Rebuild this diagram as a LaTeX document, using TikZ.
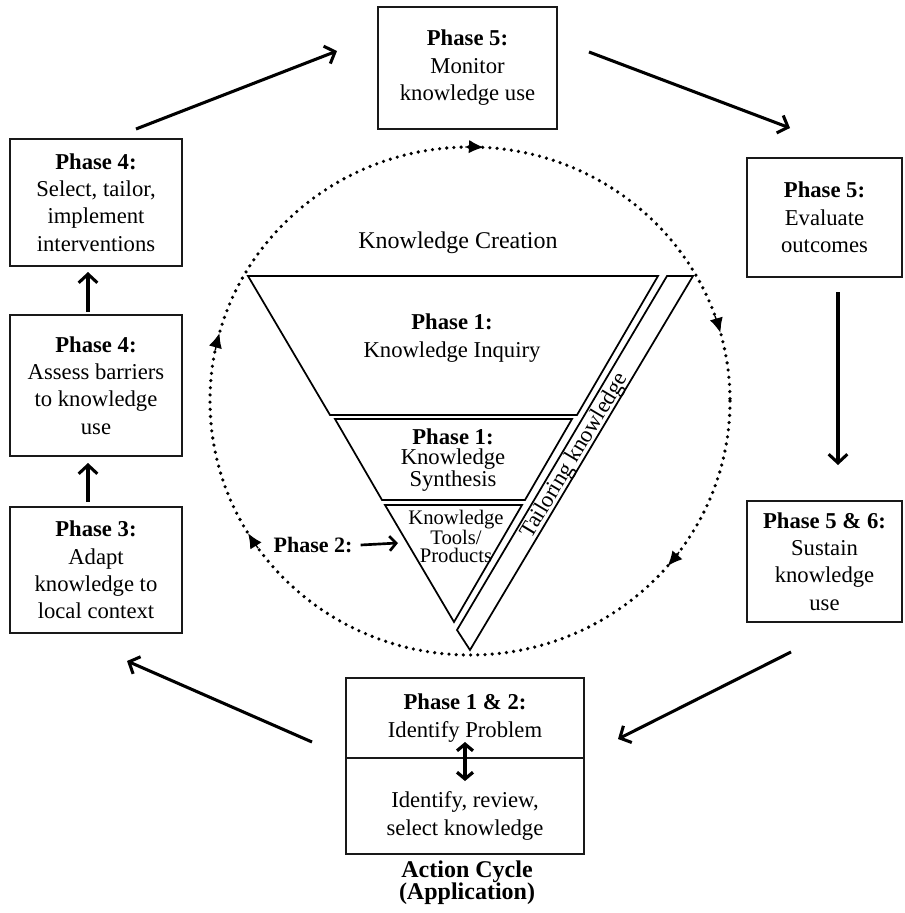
\documentclass[tikz,border=0pt]{standalone}
\usepackage{fontspec}
\setmainfont{Liberation Serif}
\usetikzlibrary{arrows.meta}
\begin{document}
\begin{tikzpicture}[x=0.75pt,y=-0.75pt,
  box/.style={draw=black!90, line width=1.5pt, align=center, inner sep=0pt, font=\fontsize{17}{20.6}\selectfont},
  txt/.style={align=center, inner sep=0pt, font=\fontsize{17}{20.6}\selectfont},
  conn/.style={line width=2.3pt, -{Straight Barb[length=6.5pt,width=14pt,line width=2.3pt]}},
  tri/.style={draw, line width=1.3pt, line join=miter},
  dots/.style={line width=2.7pt, line cap=round, dash pattern=on 0pt off 5.4pt},
  cyctip/.style={line width=1pt, -{Latex[length=11pt,width=10pt]}}]
\fill[white] (0,0) rectangle (904,913);
\useasboundingbox (0,0) rectangle (904,913);

% boxes
\node[box, minimum width=134.25pt, minimum height=91.5pt] (mon) at (467.5,68) {\textbf{Phase 5:}\\Monitor\\knowledge use};
\node[box, minimum width=129pt, minimum height=95.25pt] (sel) at (96,202.5) {\textbf{Phase 4:}\\Select, tailor,\\implement\\interventions};
\node[box, minimum width=129pt, minimum height=105.75pt] (ass) at (96,385.5) {\textbf{Phase 4:}\\Assess barriers\\to knowledge\\use};
\node[box, minimum width=129pt, minimum height=94.5pt] (ada) at (96,570) {\textbf{Phase 3:}\\Adapt\\knowledge to\\local context};
\node[box, minimum width=116.25pt, minimum height=89.25pt] (eva) at (824.5,217.5) {\textbf{Phase 5:}\\Evaluate\\outcomes};
\node[box, minimum width=116.25pt, minimum height=90.75pt] (sus) at (824.5,561.5) {\textbf{Phase 5 \& 6:}\\Sustain\\knowledge\\use};
\node[box, minimum width=178.5pt, minimum height=60pt] (idp) at (465,718) {\textbf{Phase 1 \& 2:}\\Identify Problem};
\node[box, minimum width=178.5pt, minimum height=72pt] (isk) at (465,806) {};
\node[txt] (iskt) at (465,816) {Identify, review,\\select knowledge};
\node[txt, font=\bfseries\fontsize{18}{16.5}\selectfont] (act) at (467,883) {Action Cycle\\(Application)};

% connectors between boxes
\coordinate (a1s) at (136,129); \coordinate (a1e) at (337,51);
\coordinate (a2s) at (589,52);  \coordinate (a2e) at (790,128);
\coordinate (a3s) at (838,292); \coordinate (a3e) at (838,465);
\coordinate (a4s) at (791,652); \coordinate (a4e) at (618,739);
\coordinate (a5s) at (312,742); \coordinate (a5e) at (127,661);
\coordinate (a6s) at (88,312);  \coordinate (a6e) at (88,272);
\coordinate (a7s) at (88,502);  \coordinate (a7e) at (88,463);
\draw[conn] (a1s) -- (a1e);
\draw[conn] (a2s) -- (a2e);
\draw[conn] (a3s) -- (a3e);
\draw[conn] (a4s) -- (a4e);
\draw[conn] (a5s) -- (a5e);
\draw[conn] (a6s) -- (a6e);
\draw[conn] (a7s) -- (a7e);

% double arrow inside bottom box
\coordinate (d1) at (465,742); \coordinate (d2) at (465,781);
\draw[line width=2.4pt, {Straight Barb[length=5pt,width=12pt,line width=2.4pt]}-{Straight Barb[length=5pt,width=12pt,line width=2.4pt]}] (d1) -- (d2);

% dotted cycle
\coordinate (cc) at (470,401);
\draw[dots] (cc) ++(0:260 and 254) arc[start angle=0, end angle=360, x radius=260, y radius=254];
\foreach \t in {273,344.4,400.5,508.6,555.5}
  \draw[cyctip] (cc) ++(\t-4:260 and 254) arc[start angle=\t-4, end angle=\t, x radius=260, y radius=254];

% inverted triangle
\draw[tri, fill=white] (248,276) -- (658,276) -- (577,415) -- (330,415) -- cycle;
\draw[tri, fill=white] (335,419) -- (572,419) -- (525,500) -- (382,500) -- cycle;
\draw[tri, fill=white] (385,505) -- (522,505) -- (454,622) -- cycle;
\draw[tri, fill=white] (667,276) -- (693,276) -- (470,650) -- (457,630) -- cycle;

\node[txt, font=\fontsize{18}{20}\selectfont] (kc) at (458,243) {Knowledge Creation};
\node[txt, font=\fontsize{17}{21.5}\selectfont] (kq) at (452,338) {\textbf{Phase 1:}\\Knowledge Inquiry};
\node[txt, font=\fontsize{17}{15.4}\selectfont] (ks) at (453,460) {\textbf{Phase 1:}\\Knowledge\\Synthesis};
\node[txt, font=\fontsize{15.5}{13.5}\selectfont] (kt) at (456,536) {Knowledge\\Tools/\\Products};
\node[txt, rotate=59, font=\fontsize{17}{20}\selectfont] (tk) at (575,456) {Tailoring knowledge};

\node[txt, font=\bfseries\fontsize{16.5}{20}\selectfont] (p2) at (313,545) {Phase 2:};
\coordinate (p2e) at (398,543);
\draw[line width=2pt, -{Straight Barb[length=5pt,width=11pt,line width=2pt]}] (p2.east) ++(8,0) coordinate (p2s) -- (p2e);
\end{tikzpicture}
\end{document}
